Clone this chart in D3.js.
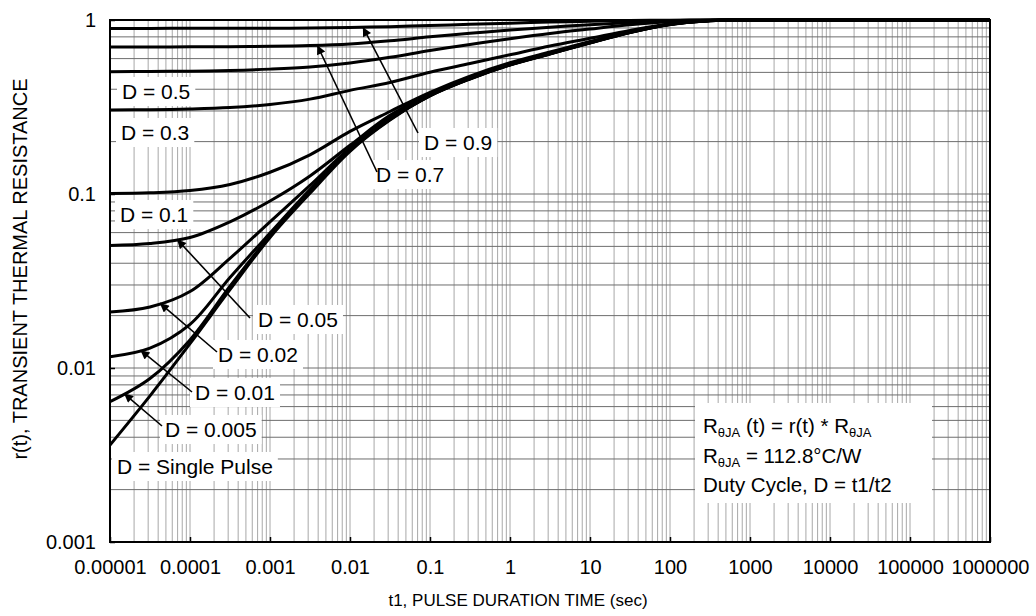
<!DOCTYPE html>
<html>
<head>
<meta charset="utf-8">
<script src="https://cdn.jsdelivr.net/npm/d3@7"></script>
<style>
  body { margin: 0; background: #fff; }
  svg { display: block; }
  text { font-family: "Liberation Sans", Arial, Helvetica, sans-serif; fill: #000; }
</style>
</head>
<body>
<svg id="chart" width="1036" height="616"></svg>
<script>
// Pulse duration t1 (sec), sampled every half decade
const pulseTime = [1e-5, 3.16e-5, 1e-4, 3.16e-4, 1e-3, 3.16e-3, 0.01, 0.0316, 0.1, 0.316,
                   1, 3.16, 10, 31.6, 100, 316, 1000, 1e4, 1e5, 1e6];

// Normalized transient thermal resistance r(t) for each duty cycle
const rD090 = [0.895, 0.895, 0.896, 0.896, 0.897, 0.899, 0.906, 0.916, 0.929, 0.944, 0.959, 0.973, 0.984, 0.993, 0.998, 1, 1, 1, 1, 1];
const rD070 = [0.700, 0.700, 0.701, 0.703, 0.706, 0.713, 0.728, 0.759, 0.800, 0.838, 0.875, 0.908, 0.940, 0.966, 0.989, 1, 1, 1, 1, 1];
const rD050 = [0.505, 0.506, 0.508, 0.513, 0.522, 0.537, 0.566, 0.610, 0.668, 0.724, 0.780, 0.836, 0.887, 0.938, 0.977, 0.998, 1, 1, 1, 1];
const rD030 = [0.304, 0.305, 0.308, 0.314, 0.327, 0.351, 0.394, 0.437, 0.501, 0.562, 0.631, 0.708, 0.785, 0.871, 0.951, 0.995, 1, 1, 1, 1];
const rD010 = [0.1007, 0.1016, 0.1047, 0.1135, 0.1334, 0.168, 0.229, 0.298, 0.384, 0.476, 0.568, 0.655, 0.752, 0.857, 0.947, 0.993, 1, 1, 1, 1];
const rD005 = [0.0506, 0.0519, 0.0562, 0.0692, 0.0912, 0.127, 0.1905, 0.283, 0.375, 0.467, 0.560, 0.647, 0.746, 0.853, 0.945, 0.993, 1, 1, 1, 1];
const rD002 = [0.0210, 0.0224, 0.0275, 0.0427, 0.0692, 0.112, 0.184, 0.273, 0.370, 0.462, 0.555, 0.642, 0.742, 0.850, 0.944, 0.992, 1, 1, 1, 1];
const rD001 = [0.0116, 0.0130, 0.0178, 0.0331, 0.0596, 0.106, 0.180, 0.270, 0.368, 0.460, 0.553, 0.640, 0.740, 0.849, 0.943, 0.991, 1, 1, 1, 1];
const rD0005 = [0.0064, 0.0087, 0.0145, 0.0295, 0.0575, 0.1035, 0.178, 0.268, 0.367, 0.459, 0.552, 0.639, 0.739, 0.848, 0.942, 0.991, 1, 1, 1, 1];
const rSingle = [0.00361, 0.00692, 0.0138, 0.0282, 0.0562, 0.101, 0.176, 0.266, 0.366, 0.458, 0.551, 0.638, 0.738, 0.847, 0.942, 0.991, 1, 1, 1, 1];

const seriesNames = ["D = 0.9", "D = 0.7", "D = 0.5", "D = 0.3", "D = 0.1", "D = 0.05",
                     "D = 0.02", "D = 0.01", "D = 0.005", "D = Single Pulse"];
const seriesValues = [rD090, rD070, rD050, rD030, rD010, rD005, rD002, rD001, rD0005, rSingle];

// Axis ticks
const xTickValues = [1e-5, 1e-4, 1e-3, 1e-2, 1e-1, 1, 10, 100, 1000, 1e4, 1e5, 1e6];
const xTickLabels = ["0.00001", "0.0001", "0.001", "0.01", "0.1", "1", "10", "100",
                     "1000", "10000", "100000", "1000000"];
const yTickValues = [0.001, 0.01, 0.1, 1];
const yTickLabels = ["0.001", "0.01", "0.1", "1"];

const xTitle = "t1, PULSE DURATION TIME (sec)";
const yTitle = "r(t), TRANSIENT THERMAL RESISTANCE";

// ---------------------------------------------------------------------------
const svg = d3.select("#chart");
const plot = { left: 110, right: 990, top: 20, bottom: 542 };
const FONT = "'Liberation Sans', Arial, Helvetica, sans-serif";

const x = d3.scaleLog().domain([1e-5, 1e6]).range([plot.left, plot.right]);
const y = d3.scaleLog().domain([0.001, 1]).range([plot.bottom, plot.top]);

// Grid: every 1..9 multiple of each decade
const vGrid = [];
for (let e = -5; e <= 5; e++) for (let k = 1; k <= 9; k++) vGrid.push(k * Math.pow(10, e));
vGrid.push(1e6);
const hGrid = [];
for (let e = -3; e <= -1; e++) for (let k = 1; k <= 9; k++) hGrid.push(k * Math.pow(10, e));
hGrid.push(1);

const grid = svg.append("g");
grid.selectAll("line.v").data(vGrid).join("line")
  .attr("x1", d => x(d)).attr("x2", d => x(d))
  .attr("y1", plot.top).attr("y2", plot.bottom)
  .attr("stroke", "#a8a8a8").attr("stroke-width", 1);
grid.selectAll("line.h").data(hGrid).join("line")
  .attr("x1", plot.left).attr("x2", plot.right)
  .attr("y1", d => y(d)).attr("y2", d => y(d))
  .attr("stroke", "#6e6e6e").attr("stroke-width", 1);

// Axes
const xAxis = svg.append("g")
  .attr("transform", `translate(0,${plot.bottom})`)
  .call(d3.axisBottom(x).tickValues(xTickValues)
    .tickFormat((d, i) => xTickLabels[i]).tickSizeInner(-5).tickSizeOuter(0).tickPadding(18));
xAxis.select(".domain").remove();
xAxis.attr("font-family", FONT).attr("font-size", 20);
xAxis.selectAll("line").attr("stroke", "#000").attr("stroke-width", 1.5);

const yAxis = svg.append("g")
  .attr("transform", `translate(${plot.left},0)`)
  .call(d3.axisLeft(y).tickValues(yTickValues)
    .tickFormat((d, i) => yTickLabels[i]).tickSizeInner(-5).tickSizeOuter(0).tickPadding(14));
yAxis.select(".domain").remove();
yAxis.attr("font-family", FONT).attr("font-size", 20);
yAxis.selectAll("line").attr("stroke", "#000").attr("stroke-width", 1.5);

// Axis titles
svg.append("text")
  .attr("x", 518).attr("y", 606)
  .attr("text-anchor", "middle").attr("font-size", 17)
  .text(xTitle);
svg.append("text")
  .attr("transform", `translate(27,269) rotate(-90)`)
  .attr("text-anchor", "middle").attr("font-size", 20)
  .text(yTitle);

// Annotation layout: label position, optional arrow pointing to the curve at time tip
const annotations = [
  { s: 0, tx: 424, ty: 150, tail: [418, 133], tip: 0.0145 },
  { s: 1, tx: 376, ty: 182, tail: [377, 172], tip: 0.0039 },
  { s: 2, tx: 122, ty: 99 },
  { s: 3, tx: 121, ty: 140 },
  { s: 4, tx: 120, ty: 222 },
  { s: 5, tx: 258, ty: 327, tail: [250, 318], tip: 6.9e-5 },
  { s: 6, tx: 218, ty: 362, tail: [217, 352], tip: 4.2e-5 },
  { s: 7, tx: 195, ty: 400, tail: [192, 392], tip: 2.4e-5 },
  { s: 8, tx: 165, ty: 437, tail: [162, 426], tip: 1.5e-5 },
  { s: 9, tx: 117, ty: 474 }
];

// log-log interpolation along a series
function valueAt(vals, t) {
  const lt = Math.log10(t);
  for (let i = 0; i < pulseTime.length - 1; i++) {
    const a = Math.log10(pulseTime[i]), b = Math.log10(pulseTime[i + 1]);
    if (lt >= a && lt <= b) {
      const f = (lt - a) / (b - a);
      return Math.pow(10, Math.log10(vals[i]) + f * (Math.log10(vals[i + 1]) - Math.log10(vals[i])));
    }
  }
  return vals[vals.length - 1];
}

// White label boxes (drawn under the curves, over the grid)
const boxLayer = svg.append("g");
const labelLayer = svg.append("g").attr("font-size", 21);

// Info box
const info = svg.append("g").attr("font-size", 20.5);
const infoLines = [
  [["R", 0], ["θJA", 1], [" (t) = r(t) * R", 0], ["θJA", 1]],
  [["R", 0], ["θJA", 1], [" = 112.8°C/W", 0]],
  [["Duty Cycle, D = t1/t2", 0]]
];

// Curves
svg.append("clipPath").attr("id", "plotClip")
  .append("rect").attr("x", plot.left).attr("y", plot.top - 2)
  .attr("width", plot.right - plot.left).attr("height", plot.bottom - plot.top + 2);

const line = d3.line()
  .x((d, i) => x(pulseTime[i]))
  .y(d => y(d))
  .curve(d3.curveCatmullRom.alpha(0.5));

const curveLayer = svg.append("g").attr("clip-path", "url(#plotClip)");
curveLayer.selectAll("path").data(seriesValues).join("path")
  .attr("d", d => line(d))
  .attr("fill", "none").attr("stroke", "#000").attr("stroke-width", 3)
  .attr("stroke-linejoin", "round");

// Frame
svg.append("rect")
  .attr("x", plot.left).attr("y", plot.top)
  .attr("width", plot.right - plot.left).attr("height", plot.bottom - plot.top)
  .attr("fill", "none").attr("stroke", "#000").attr("stroke-width", 2);

// Arrowhead marker
svg.append("defs").append("marker")
  .attr("id", "arrowHead").attr("viewBox", "0 0 10 10")
  .attr("refX", 10).attr("refY", 5)
  .attr("markerWidth", 13).attr("markerHeight", 9)
  .attr("markerUnits", "userSpaceOnUse").attr("orient", "auto")
  .append("path").attr("d", "M0,0 L10,5 L0,10 Z").attr("fill", "#000");

// Labels with boxes
annotations.forEach(a => {
  const t = labelLayer.append("text").attr("x", a.tx).attr("y", a.ty).text(seriesNames[a.s]);
  const bb = t.node().getBBox();
  boxLayer.append("rect")
    .attr("x", bb.x - 5).attr("y", bb.y - 3)
    .attr("width", bb.width + 10).attr("height", bb.height + 6)
    .attr("fill", "#fff");
});

annotations.filter(a => a.tip).forEach(a => {
  const tx = x(a.tip), ty = y(valueAt(seriesValues[a.s], a.tip));
  svg.append("line")
    .attr("x1", a.tail[0]).attr("y1", a.tail[1])
    .attr("x2", tx).attr("y2", ty)
    .attr("stroke", "#000").attr("stroke-width", 1.6)
    .attr("marker-end", "url(#arrowHead)");
});

// Info box text
boxLayer.append("rect")
  .attr("x", 695).attr("y", 403).attr("width", 237).attr("height", 100)
  .attr("fill", "#fff");
const baselines = [433, 463, 492];
infoLines.forEach((parts, li) => {
  const t = info.append("text").attr("x", 703).attr("y", baselines[li]);
  parts.forEach(([s, sub], k) => {
    const ts = t.append("tspan").text(s);
    if (sub) ts.attr("font-size", 13).attr("dy", 4);
    else if (k > 0) ts.attr("dy", -4);
  });
});
</script>
</body>
</html>
